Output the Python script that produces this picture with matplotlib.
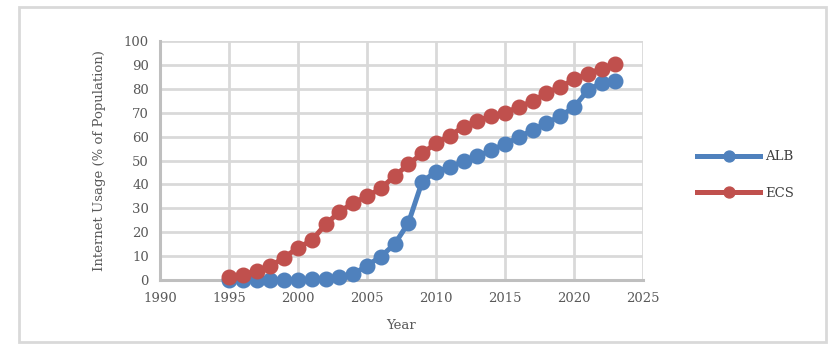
import matplotlib
matplotlib.use("Agg")
import matplotlib.pyplot as plt
from matplotlib.patches import Rectangle

years = list(range(1995, 2024))
alb = [0.0, 0.0, 0.0, 0.1, 0.1, 0.1, 0.3, 0.4, 1.1, 2.4, 6.0, 9.8, 15.0, 23.9, 41.2,
       45.3, 47.2, 49.8, 51.7, 54.4, 56.9, 59.7, 62.8, 65.6, 68.6, 72.3, 79.4, 82.6, 83.1]
ecs = [1.4, 2.3, 3.8, 5.8, 9.4, 13.5, 16.6, 23.3, 28.5, 32.3, 35.0, 38.3, 43.5, 48.4, 53.0,
       57.2, 60.4, 64.1, 66.6, 68.7, 69.9, 72.5, 74.8, 78.3, 80.8, 83.9, 86.4, 88.4, 90.4]
series_names = ["ALB", "ECS"]
xticks = [1990, 1995, 2000, 2005, 2010, 2015, 2020, 2025]
yticks = list(range(0, 101, 10))

blue = "#4f81bd"
red = "#c0504d"
txt = "#595959"
font = "DejaVu Serif"
fs = 9.5

fig = plt.figure(figsize=(8.31, 3.44), dpi=100)
W, H = 831, 344
ax = fig.add_axes([160 / W, 1 - 280 / H, (643 - 160) / W, (280 - 41) / H])

# outer frame
fig.patches.append(Rectangle((19 / W, 2 / H), (826 - 19) / W, (337 - 2) / H,
                             transform=fig.transFigure, fill=False,
                             edgecolor="#d9d9d9", linewidth=2))

ax.plot(years, alb, color=blue, lw=3.6, marker="o", ms=10.5, label=series_names[0],
        zorder=3, clip_on=False)
ax.plot(years, ecs, color=red, lw=3.6, marker="o", ms=10.5, label=series_names[1],
        zorder=4, clip_on=False)

ax.set_xlim(1990, 2025)
ax.set_ylim(0, 100)
ax.set_xticks(xticks)
ax.set_yticks(yticks)
ax.grid(True, color="#d9d9d9", lw=2)
ax.set_axisbelow(True)
for s in ["top", "right"]:
    ax.spines[s].set_visible(False)
for s in ["left", "bottom"]:
    ax.spines[s].set_color("#bfbfbf")
    ax.spines[s].set_linewidth(2.2)
ax.tick_params(length=0, labelsize=fs, labelcolor=txt, pad=8)
for lab in ax.get_xticklabels() + ax.get_yticklabels():
    lab.set_fontfamily(font)
ax.tick_params(axis="x", pad=9)

ax.set_xlabel("Year", fontsize=fs, color=txt, fontfamily=font, labelpad=10)
ax.set_ylabel("Internet Usage (% of Population)", fontsize=fs, color=txt,
              fontfamily=font, labelpad=13)

leg = fig.legend(loc="center left", bbox_to_anchor=(685 / W, 1 - 175 / H),
                 frameon=False, handlelength=4.8, markerscale=0.75,
                 labelspacing=1.75, handletextpad=0.35,
                 prop={"family": font, "size": fs})
for t in leg.get_texts():
    t.set_color("#404040")

fig.savefig("out.png", dpi=100)
